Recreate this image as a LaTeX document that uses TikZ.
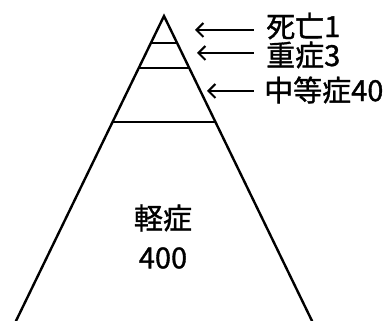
\documentclass[tikz,border=0pt]{standalone}
\usepackage{fontspec}
\newfontfamily\jpfont[FakeBold=1.2]{Noto Sans CJK JP}
\usetikzlibrary{arrows.meta,calc}
\begin{document}
\begin{tikzpicture}[x=1pt,y=-1pt,
  edge/.style={line width=2.4pt,line join=miter},
  band/.style={line width=2pt},
  lbl/.style={font=\jpfont\fontsize{29}{29}\selectfont,inner sep=0pt,anchor=west},
  body/.style={font=\jpfont\fontsize{29}{29}\selectfont,inner sep=0pt},
  ptr/.style={line width=2pt,{Straight Barb[length=7pt,width=14pt,line width=2pt]}-}]
\useasboundingbox (0,0) rectangle (392,321);
% pyramid
\coordinate (apex) at (164,16);
\coordinate (bl) at (15,323);
\coordinate (br) at (313,323);
\draw[edge] (bl) -- (apex) -- (br);
\draw[band] ($(apex)!0.0879!(bl)$) -- ($(apex)!0.0879!(br)$);
\draw[band] ($(apex)!0.1694!(bl)$) -- ($(apex)!0.1694!(br)$);
\draw[band] ($(apex)!0.3453!(bl)$) -- ($(apex)!0.3453!(br)$);
% labels
\node[lbl] (l1) at (266,26) {死亡1};
\node[lbl] (l2) at (266,55) {重症3};
\node[lbl] (l3) at (264,90) {中等症40};
\node[body] (b1) at (163,218) {軽症};
\node[body] (b2) at (163,258) {400};
% arrows
\coordinate (t1) at (195,30);
\coordinate (t2) at (197,53);
\coordinate (t3) at (207,91);
\draw[ptr] (t1) -- ([xshift=-12pt]t1 -| l1.west);
\draw[ptr] (t2) -- ([xshift=-12pt]t2 -| l2.west);
\draw[ptr] (t3) -- ([xshift=-10pt]t3 -| l3.west);
\end{tikzpicture}
\end{document}
